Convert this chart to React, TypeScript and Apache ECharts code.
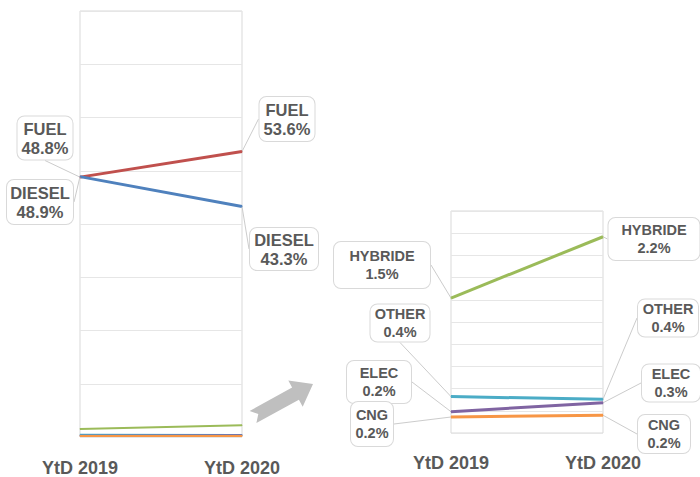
import React, { useEffect, useRef } from "react";
import * as echarts from "echarts";

const categories = ["YtD 2019", "YtD 2020"];
const fuel = [48.8, 53.6];
const diesel = [48.9, 43.3];
const hybride = [1.52, 2.21];
const other = [0.41, 0.38];
const elec = [0.24, 0.34];
const cng = [0.18, 0.2];

const COLORS: Record<string, string> = {
  FUEL: "#c0504d",
  DIESEL: "#4f81bd",
  HYBRIDE: "#9bbb59",
  OTHER: "#4bacc6",
  ELEC: "#8064a2",
  CNG: "#f79646",
};

// label box layout: [centerX, centerY, width, height] per data index
const BOXES: Record<string, number[][]> = {
  "0-FUEL": [[45, 138, 55, 43], [287, 119, 55, 44]],
  "0-DIESEL": [[40, 202, 66, 44], [284, 249, 68, 42]],
  "1-HYBRIDE": [[382, 265, 96, 46], [654, 239, 91, 42]],
  "1-OTHER": [[400, 323, 59, 37], [668, 318, 60, 37]],
  "1-ELEC": [[379, 382, 64, 42], [671, 383, 58, 37]],
  "1-CNG": [[372, 424, 42, 44], [664, 434, 52, 38]],
};

const TEXT = "#595959";
const FONT = "'Liberation Sans', Arial, sans-serif";

function makeSeries(name: string, values: number[], grid: number, width: number, labeled: boolean) {
  const key = `${grid}-${name}`;
  const boxes = BOXES[key];
  const fs = grid === 0 ? 16.5 : 14.5;
  const lh = grid === 0 ? 19 : 18;
  const data = values.map((v, i) => {
    if (!labeled) return v;
    const b = boxes[i];
    const padV = Math.max(0, (b[3] - 2 * lh) / 2);
    return {
      value: v,
      label: {
        show: true,
        width: b[2] - 4,
        padding: [padV, 2],
        lineHeight: lh,
        fontSize: fs,
      },
    };
  });
  return {
    type: "line",
    name,
    xAxisIndex: grid,
    yAxisIndex: grid,
    data,
    symbol: "circle",
    symbolSize: 1,
    showSymbol: true,
    itemStyle: { color: COLORS[name] },
    lineStyle: { color: COLORS[name], width },
    z: name === "CNG" ? 5 : 3,
    label: {
      show: labeled,
      formatter: (p: any) => `${p.seriesName}\n${Number(p.value).toFixed(1)}%`,
      color: TEXT,
      fontWeight: "bold",
      fontFamily: FONT,
      backgroundColor: "#ffffff",
      borderColor: "#d9d9d9",
      borderWidth: 1,
      borderRadius: 7,
      align: "center",
      verticalAlign: "middle",
    },
    labelLine: {
      show: labeled,
      length2: 0,
      smooth: false,
      lineStyle: { color: "#cccccc", width: 1 },
    },
    labelLayout: labeled
      ? (p: any) => {
          const b = boxes[p.dataIndex];
          return { x: b[0], y: b[1], align: "center", verticalAlign: "middle" };
        }
      : undefined,
  };
}

export default function App() {
  const ref = useRef<HTMLDivElement>(null);
  useEffect(() => {
    if (!ref.current) return;
    const chart = echarts.init(ref.current, undefined, { renderer: "svg" });
    const xAxisBase = {
      type: "category",
      data: categories,
      boundaryGap: false,
      axisLine: { show: false },
      axisTick: { show: false },
      splitLine: { show: false },
      axisLabel: {
        color: TEXT,
        fontWeight: "bold",
        fontSize: 18,
        fontFamily: FONT,
      },
    };
    const yBase = {
      type: "value",
      axisLabel: { show: false },
      axisLine: { show: false },
      axisTick: { show: false },
      splitLine: { show: true, lineStyle: { color: "#e6e6e6", width: 1 } },
    };
    chart.setOption({
      animation: false,
      backgroundColor: "#ffffff",
      grid: [
        { left: 80, top: 11, width: 162, height: 430, show: true, borderColor: "#d9d9d9", borderWidth: 1 },
        { left: 451, top: 211, width: 152, height: 222, show: true, borderColor: "#d9d9d9", borderWidth: 1 },
      ],
      xAxis: [
        { ...xAxisBase, gridIndex: 0, axisLabel: { ...xAxisBase.axisLabel, margin: 22 } },
        { ...xAxisBase, gridIndex: 1, axisLabel: { ...xAxisBase.axisLabel, margin: 21 } },
      ],
      yAxis: [
        { ...yBase, gridIndex: 0, min: 0, max: 80, interval: 10 },
        { ...yBase, gridIndex: 1, min: 0, max: 2.5, interval: 0.25 },
      ],
      graphic: [
        {
          type: "polygon",
          shape: {
            points: [
              [249.6, 410.9],
              [292.1, 387.6],
              [288.3, 380.6],
              [313, 384],
              [302.7, 406.8],
              [298.9, 399.8],
              [256.4, 423.1],
              [258.3, 414.1],
            ],
          },
          style: { fill: "#bfbfbf" },
        },
      ],
      series: [
        makeSeries("HYBRIDE", hybride, 0, 2, false),
        makeSeries("OTHER", other, 0, 2, false),
        makeSeries("ELEC", elec, 0, 2, false),
        makeSeries("CNG", cng, 0, 2, false),
        makeSeries("FUEL", fuel, 0, 3, true),
        makeSeries("DIESEL", diesel, 0, 3, true),
        makeSeries("HYBRIDE", hybride, 1, 3, true),
        makeSeries("OTHER", other, 1, 3, true),
        makeSeries("ELEC", elec, 1, 3, true),
        makeSeries("CNG", cng, 1, 3, true),
      ],
    });
    return () => chart.dispose();
  }, []);
  return (
    <div
      ref={ref}
      style={{ position: "fixed", left: 0, top: 0, width: 700, height: 477, background: "#fff" }}
    />
  );
}
